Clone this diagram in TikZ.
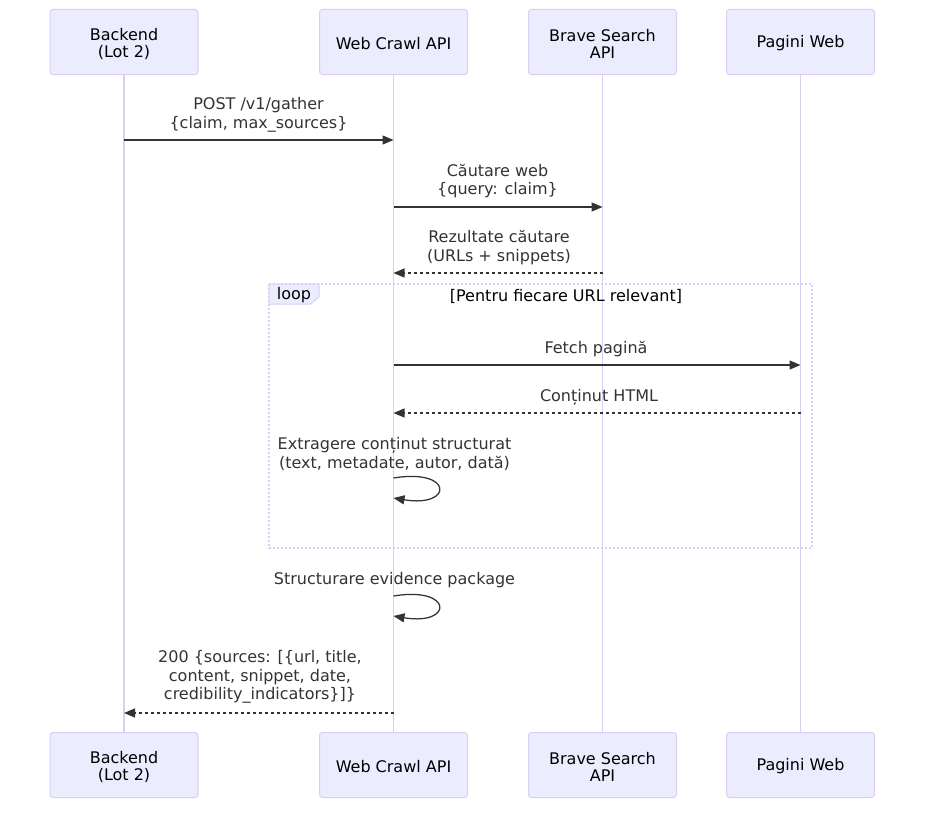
\documentclass[tikz,border=0pt]{standalone}
\usepackage{fontspec}
\setmainfont{DejaVu Sans}
\usetikzlibrary{arrows.meta}
\definecolor{actfill}{HTML}{ECECFF}
\definecolor{actline}{HTML}{DACEF3}
\definecolor{msgcol}{HTML}{333333}
\tikzset{
  actor/.style={draw=actline, fill=actfill, line width=1pt, rounded corners=3pt,
    minimum width=148pt, minimum height=65pt, inner sep=0pt},
  actorlbl/.style={inner sep=0pt, align=center, yshift=-1.5pt,
    font=\fontsize{16}{17}\selectfont, text=black},
  lifeline/.style={draw=actline, line width=1.3pt},
  msgtext/.style={inner sep=0pt, align=center, font=\fontsize{16}{18.5}\selectfont, text=msgcol},
  msg/.style={draw=msgcol, line width=1.25pt, -{Triangle[length=11pt,width=9pt]}},
  reply/.style={msg, dash pattern=on 3pt off 3pt},
  loopline/.style={draw=actline, line width=1.5pt, dash pattern=on 2pt off 2pt},
  looptab/.style={draw=actline, fill=actfill, line width=1pt},
  looptext/.style={inner sep=0pt, font=\fontsize{16}{18.5}\selectfont, text=black}
}
\begin{document}
\begin{tikzpicture}[x=1pt,y=-1pt]
\useasboundingbox (0,0) rectangle (933,816);
% actors top
\node[actor, label={[actorlbl]center:Backend\\(Lot 2)}] (bt) at (124,42) {};
\node[actor, label={[actorlbl]center:Web Crawl API}] (wt) at (393.5,42) {};
\node[actor, label={[actorlbl]center:Brave Search\\API}] (st) at (602.5,42) {};
\node[actor, label={[actorlbl]center:Pagini Web}] (pt) at (800.5,42) {};
% actors bottom
\node[actor, label={[actorlbl]center:Backend\\(Lot 2)}] (bb) at (124,765) {};
\node[actor, label={[actorlbl]center:Web Crawl API}] (wb) at (393.5,765) {};
\node[actor, label={[actorlbl]center:Brave Search\\API}] (sb) at (602.5,765) {};
\node[actor, label={[actorlbl]center:Pagini Web}] (pb) at (800.5,765) {};
% lifelines
\draw[lifeline] (bt.south) -- (bb.north);
\draw[lifeline] (wt.south) -- (wb.north);
\draw[lifeline] (st.south) -- (sb.north);
\draw[lifeline] (pt.south) -- (pb.north);
% loop frame
\coordinate (lpa) at (269,284);
\coordinate (lpb) at (812,548);
\draw[loopline] (lpa) rectangle (lpb);
\draw[looptab] (269,284) -- (319,284) -- (319,297) -- (310.6,304) -- (269,304) -- cycle;
\node[looptext] (lplbl) at (294,295.5) {loop};
\node[looptext] (lptitle) at (566,296) {[Pentru fiecare URL relevant]};
% message 1
\coordinate (m1a) at (124,140);
\coordinate (m1b) at (393.5,140);
\node[msgtext] (t1) at (258.5,115) {POST /v1/gather\\\{claim, max\_sources\}};
\draw[msg] (m1a) -- (m1b);
% message 2
\coordinate (m2a) at (393.5,207);
\coordinate (m2b) at (602.5,207);
\node[msgtext] (t2) at (497.5,181) {Căutare web\\\{query: claim\}};
\draw[msg] (m2a) -- (m2b);
% message 3
\coordinate (m3a) at (602.5,273);
\coordinate (m3b) at (393.5,273);
\node[msgtext] (t3) at (499,247.5) {Rezultate căutare\\(URLs + snippets)};
\draw[reply] (m3a) -- (m3b);
% message 4
\coordinate (m4a) at (393.5,365);
\coordinate (m4b) at (800.5,365);
\node[msgtext] (t4) at (596,349) {Fetch pagină};
\draw[msg] (m4a) -- (m4b);
% message 5
\coordinate (m5a) at (800.5,413);
\coordinate (m5b) at (393.5,413);
\node[msgtext] (t5) at (599,397) {Conținut HTML};
\draw[reply] (m5a) -- (m5b);
% self 1
\coordinate (s1a) at (393.5,478);
\coordinate (s1b) at (393.5,498);
\node[msgtext] (t6) at (394.5,454) {Extragere conținut structurat\\(text, metadate, autor, dată)};
\draw[msg] (s1a) .. controls (453.5,468) and (453.5,508) .. (s1b);
% self 2
\coordinate (s2a) at (393.5,596);
\coordinate (s2b) at (393.5,616);
\node[msgtext] (t7) at (394.5,580) {Structurare evidence package};
\draw[msg] (s2a) .. controls (453.5,586) and (453.5,626) .. (s2b);
% reply final
\coordinate (m8a) at (393.5,713);
\coordinate (m8b) at (124,713);
\node[msgtext] (t8) at (260,677) {200 \{sources: [\{url, title,\\content, snippet, date,\\credibility\_indicators\}]\}};
\draw[reply] (m8a) -- (m8b);
\end{tikzpicture}
\end{document}
